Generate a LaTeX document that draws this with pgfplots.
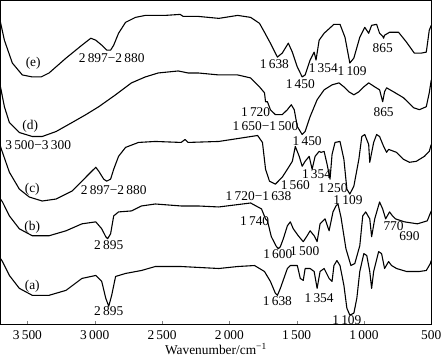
\documentclass[border=0pt]{standalone}
\usepackage{fontspec}
\setmainfont{Liberation Serif}
\usepackage{pgfplots}
\pgfplotsset{compat=1.18}
\tikzset{spec/.style={black, line width=1.1pt, line join=round, mark=none}}
\begin{document}
\begin{tikzpicture}[font=\fontsize{13.5}{15}\selectfont]
\begin{axis}[
  scale only axis, width=434pt, height=326pt,
  x dir=reverse, xmin=500, xmax=3700,
  y dir=reverse, ymin=0, ymax=326,
  ytick=\empty,
  xtick={500,1000,...,3500},
  xtick pos=left, tick align=inside, major tick length=3pt,
  /pgf/number format/assume math mode=true,
  /pgf/number format/1000 sep={\,},
  ticklabel style={font=\fontsize{13.5}{15}\selectfont},
  xticklabel style={anchor=base, yshift=-15.5pt},
  xlabel={Wavenumber/cm\textsuperscript{−1}},
  xlabel style={font=\fontsize{13.5}{15}\selectfont, yshift=3.5pt},
  axis line style={line width=0.8pt},
  clip=true,
]
% (e)
\addplot[spec] coordinates {(3700,22)(3671,40)(3612,63)(3538,75)(3464,77)(3398,77)(3339,73)(3213,58)(3095,45)(3029,38)(2992,40)(2948,45)(2911,50)(2882,50)(2859,45)(2823,33)(2771,22)(2697,17)(2624,15)(2476,15)(2365,14)(2343,16)(2329,16)(2233,16)(2078,18)(1938,15)(1842,17)(1776,23)(1739,32)(1695,43)(1643,57)(1607,53)(1562,43)(1532,52)(1495,67)(1459,77)(1437,75)(1400,60)(1370,52)(1356,60)(1333,40)(1296,33)(1223,24)(1178,24)(1141,37)(1105,63)(1075,58)(1031,37)(994,27)(965,33)(943,25)(906,24)(884,33)(861,36)(854,38)(847,35)(810,32)(743,32)(684,42)(626,53)(574,53)(537,52)(515,30)(500,25)};
% (d)
\addplot[spec] coordinates {(3700,87)(3671,107)(3634,123)(3560,133)(3464,137)(3390,137)(3287,132)(3169,123)(3066,115)(2970,107)(2845,95)(2727,83)(2624,77)(2528,73)(2380,71)(2343,72)(2307,73)(2233,73)(2078,75)(1938,75)(1842,78)(1776,87)(1739,93)(1731,102)(1717,102)(1695,110)(1658,115)(1607,115)(1569,110)(1540,105)(1518,110)(1495,127)(1459,135)(1437,132)(1400,117)(1348,100)(1296,90)(1237,85)(1186,83)(1149,87)(1112,92)(1075,95)(1038,92)(1001,87)(965,83)(920,87)(884,90)(861,102)(847,92)(832,88)(780,92)(706,98)(632,108)(588,110)(537,107)(515,93)(500,80)};
% (c)
\addplot[spec] coordinates {(3700,147)(3693,150)(3634,173)(3560,190)(3486,198)(3390,202)(3287,200)(3169,192)(3066,178)(3022,172)(2992,168)(2970,172)(2933,180)(2911,182)(2882,180)(2859,170)(2823,157)(2771,148)(2675,143)(2550,142)(2358,143)(2329,140)(2307,143)(2078,142)(1790,136)(1754,143)(1731,170)(1702,182)(1658,185)(1607,178)(1569,170)(1532,162)(1510,147)(1481,157)(1459,167)(1437,162)(1407,157)(1385,170)(1363,157)(1333,152)(1318,153)(1296,152)(1274,165)(1252,180)(1237,155)(1215,143)(1178,142)(1149,160)(1127,190)(1105,195)(1075,187)(1038,160)(1016,137)(994,135)(965,145)(957,163)(928,143)(906,135)(884,137)(854,147)(832,153)(817,150)(758,153)(706,160)(662,163)(611,162)(551,157)(515,152)(500,145)};
% (b)
\addplot[spec] coordinates {(3700,200)(3685,203)(3634,217)(3560,230)(3464,237)(3339,237)(3213,232)(3095,225)(2992,223)(2948,230)(2918,238)(2904,240)(2882,235)(2859,217)(2823,213)(2727,212)(2653,207)(2550,205)(2358,207)(2233,207)(2078,208)(1842,204)(1761,210)(1731,220)(1717,222)(1688,238)(1650,248)(1636,250)(1621,248)(1599,240)(1569,227)(1547,223)(1525,230)(1488,237)(1451,243)(1422,237)(1400,232)(1370,237)(1348,243)(1326,225)(1289,220)(1259,232)(1230,213)(1208,207)(1193,205)(1171,218)(1134,250)(1097,267)(1068,265)(1031,247)(1009,217)(987,213)(957,220)(943,238)(920,220)(884,203)(861,210)(839,220)(810,213)(788,217)(766,220)(699,223)(603,225)(530,222)(500,212)};
% (a)
\addplot[spec] coordinates {(3700,260)(3685,263)(3634,277)(3560,290)(3464,297)(3339,297)(3213,292)(3095,280)(2992,277)(2948,283)(2918,300)(2896,308)(2874,297)(2845,278)(2771,275)(2653,272)(2550,268)(2358,268)(2078,270)(1938,268)(1813,267)(1739,273)(1695,283)(1658,295)(1643,297)(1621,290)(1569,270)(1547,267)(1495,267)(1473,280)(1451,282)(1437,270)(1400,270)(1370,273)(1348,290)(1326,273)(1296,270)(1259,280)(1237,283)(1223,267)(1201,262)(1178,267)(1149,287)(1127,310)(1105,317)(1075,315)(1053,300)(1031,273)(1001,255)(979,257)(957,273)(943,290)(928,273)(891,253)(869,255)(847,270)(817,263)(795,267)(758,270)(684,273)(588,273)(537,272)(507,265)(500,262)};
% labels
\node at (axis cs:3457,63) {(e)};
\node at (axis cs:2874,58) {2\,897−2\,880};
\node at (axis cs:1665,64) {1\,638};
\node at (axis cs:1473,84) {1\,450};
\node at (axis cs:1302,68) {1\,354};
\node at (axis cs:1088,71) {1\,109};
\node at (axis cs:861,48) {865};
\node at (axis cs:3479,127) {(d)};
\node at (axis cs:3420,146) {3\,500−3\,300};
\node at (axis cs:1805,112) {1\,720};
\node at (axis cs:1731,127) {1\,650−1\,500};
\node at (axis cs:1422,142) {1\,450};
\node at (axis cs:854,112) {865};
\node at (axis cs:3464,190) {(c)};
\node at (axis cs:2859,191) {2\,897−2\,880};
\node at (axis cs:1510,186) {1\,560};
\node at (axis cs:1352,175) {1\,354};
\node at (axis cs:1230,189) {1\,250};
\node at (axis cs:1783,197) {1\,720−1\,638};
\node at (axis cs:1119,201) {1\,109};
\node at (axis cs:3464,228) {(b)};
\node at (axis cs:2896,246) {2\,895};
\node at (axis cs:1812,222) {1\,740};
\node at (axis cs:1640,255) {1\,600};
\node at (axis cs:1440,252) {1\,500};
\node at (axis cs:780,227) {770};
\node at (axis cs:662,237) {690};
\node at (axis cs:3464,288) {(a)};
\node at (axis cs:2896,313) {2\,895};
\node at (axis cs:1643,303) {1\,638};
\node at (axis cs:1333,300) {1\,354};
\node at (axis cs:1127,322) {1\,109};
\end{axis}
\pgfresetboundingbox
\path[use as bounding box] ([xshift=-0.5pt,yshift=-33.5pt]current axis.south west) rectangle ([xshift=10.8pt,yshift=0.5pt]current axis.north east);
\end{tikzpicture}
\end{document}
